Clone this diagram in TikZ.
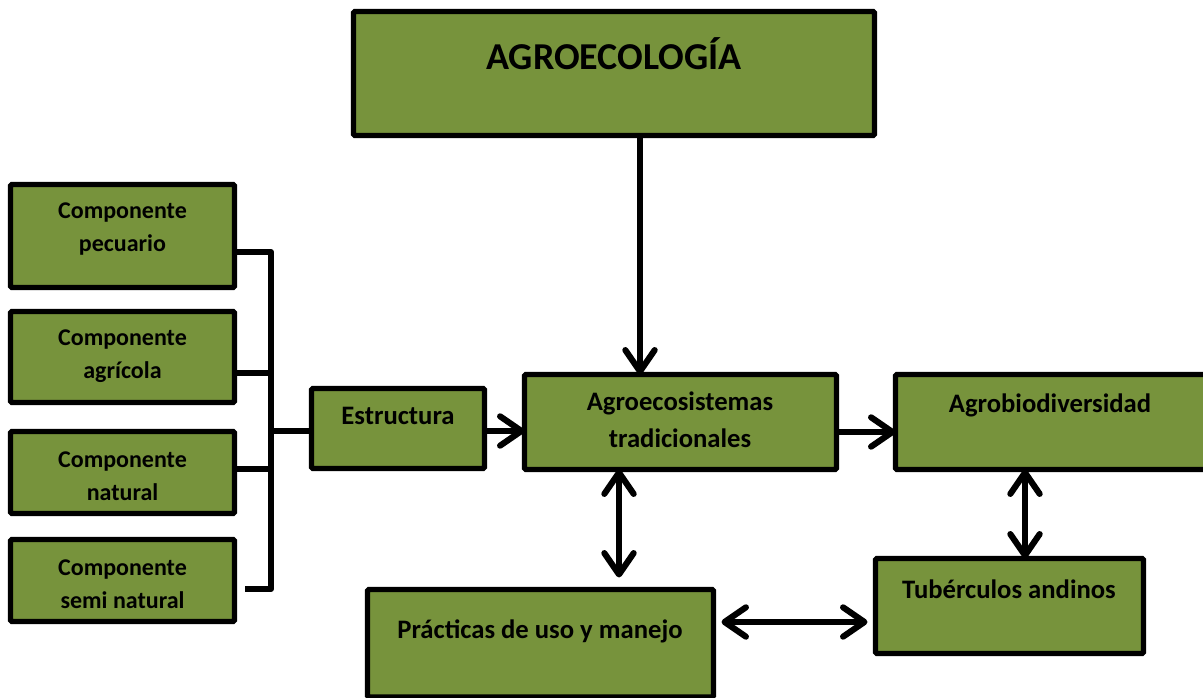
\documentclass[tikz,border=0pt]{standalone}
\usepackage{fontspec}
\setmainfont{Carlito}
\usetikzlibrary{arrows.meta,fit}
\definecolor{boxgreen}{RGB}{119,147,60}
\begin{document}
\begin{tikzpicture}[x=0.75pt,y=-0.75pt,
  box/.style={draw=black, fill=boxgreen, line width=4pt, inner sep=0pt, outer sep=0pt, rounded corners=1pt},
  lbl/.style={font=\bfseries\fontsize{20}{27}\selectfont, align=center, inner sep=0pt, anchor=base},
  lbls/.style={lbl, font=\bfseries\fontsize{18}{24.75}\selectfont},
  conn/.style={line width=4.6pt, line cap=butt},
  tip/.tip={Straight Barb[length=16pt,width=22pt,round]},
  arr/.style={conn, -{tip}},
  darr/.style={conn, {tip}-{tip}}]
\useasboundingbox (0,0) rectangle (1203,698);
\fill[white] (0,0) rectangle (1203,698);

% boxes
\node[box, fit={(353.5,11.5) (874.5,135.5)}] (agro) {};
\node[box, fit={(10.5,184.5) (234.5,287.5)}] (pec) {};
\node[box, fit={(10.5,311.5) (234.5,402.5)}] (agr) {};
\node[box, fit={(10.5,431.5) (234.5,513.5)}] (nat) {};
\node[box, fit={(10.5,539.5) (234.5,621.5)}] (semi) {};
\node[box, fit={(311.5,388.5) (484.5,468.5)}] (est) {};
\node[box, fit={(524.5,374.5) (836.5,469.5)}] (eco) {};
\node[box, fit={(895.5,374.5) (1210,469.5)}] (bio) {};
\node[box, fit={(367.5,589.5) (713.5,697)}] (pra) {};
\node[box, fit={(875.5,558.5) (1143.5,653.5)}] (tub) {};

% labels (base = baseline of last line)
\node[lbl, font=\bfseries\fontsize{28.5}{30}\selectfont] (tagro) at (614,70) {AGROECOLOGÍA};
\node[lbls] (tpec) at (122.5,252) {Componente\\pecuario};
\node[lbls] (tagr) at (122.5,379) {Componente\\agrícola};
\node[lbls] (tnat) at (122.5,500) {Componente\\natural};
\node[lbls] (tsemi) at (122.5,608) {Componente\\semi natural};
\node[lbl] (test) at (398,425) {Estructura};
\node[lbl, font=\bfseries\fontsize{20}{27.75}\selectfont] (teco) at (680,447) {Agroecosistemas\\tradicionales};
\node[lbl] (tbio) at (1050,413) {Agrobiodiversidad};
\node[lbl] (tpra) at (540,638) {Prácticas de uso y manejo};
\node[lbl] (ttub) at (1009,598) {Tubérculos andinos};

% bracket
\coordinate (bt) at (271,252);
\coordinate (ba) at (271,373);
\coordinate (bn) at (271,469);
\coordinate (bb) at (271,589);
\coordinate (bs) at (245,589);
\coordinate (bm) at (271,431);
\draw[conn, line join=round] (pec.east |- bt) -- (bt) -- (bb) -- (bs);
\draw[conn] (agr.east |- ba) -- (ba);
\draw[conn] (nat.east |- bn) -- (bn);
\draw[conn] (bm) -- (est.west |- bm);

% arrows
\coordinate (ax) at (640,0);
\draw[arr] (agro.south -| ax) -- (eco.north -| ax);
\coordinate (ay) at (0,431);
\draw[arr] (est.east |- ay) -- (eco.west |- ay);
\coordinate (by) at (0,432);
\draw[arr] (eco.east |- by) -- (bio.west |- by);
\coordinate (cx) at (619,0);
\draw[darr, shorten >=9pt] (eco.south -| cx) -- (pra.north -| cx);
\coordinate (dy) at (0,622);
\draw[darr, shorten <=6pt, shorten >=6pt] (pra.east |- dy) -- (tub.west |- dy);
\coordinate (ex) at (1025,0);
\draw[darr] (bio.south -| ex) -- (tub.north -| ex);
\end{tikzpicture}
\end{document}
